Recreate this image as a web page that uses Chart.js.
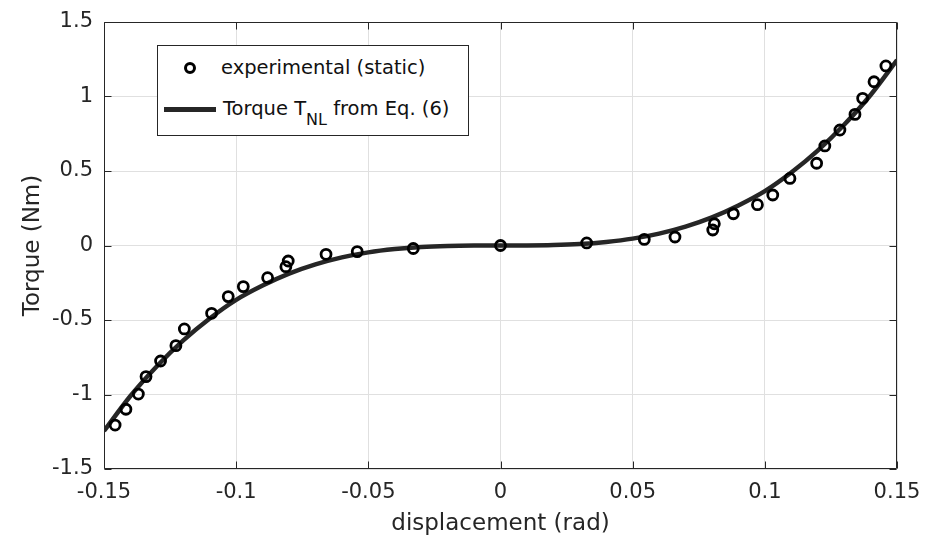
<!DOCTYPE html>
<html>
<head>
<meta charset="utf-8">
<script src="https://cdn.jsdelivr.net/npm/chart.js@4"></script>
<style>
  body { margin: 0; background: #fff; }
  #wrap { position: relative; width: 926px; height: 546px; }
  #legend {
    position: absolute; left: 157px; top: 45px; width: 312px; height: 91px;
    box-sizing: border-box; border: 1px solid #262626; background: #fff;
    font-family: 'DejaVu Sans', sans-serif; font-size: 19.5px; color: #111;
  }
  #legend .row { position: absolute; line-height: 22px; white-space: nowrap; }
  #legend .mk {
    position: absolute; left: 26px; top: 16px; width: 12px; height: 12px;
    box-sizing: border-box; border: 3px solid #000; border-radius: 50%;
  }
  #legend .ln { position: absolute; left: 6px; top: 61px; width: 52px; height: 5px; background: #262626; }
  #legend sub { font-size: 16px; vertical-align: -10px; line-height: 0; }
</style>
</head>
<body>
<div id="wrap">
  <canvas id="c"></canvas>
  <div id="legend">
    <span class="mk"></span>
    <div class="row" style="left:63px; top:11px;">experimental (static)</div>
    <span class="ln"></span>
    <div class="row" style="left:65px; top:52px;">Torque T<sub>NL</sub> from Eq. (6)</div>
  </div>
</div>
<script>
// ----- Data -----
const expX = [-0.1458, -0.1417, -0.1370, -0.1341, -0.1286, -0.1228, -0.1196, -0.1093, -0.1030, -0.0973,
              -0.0881, -0.0812, -0.0803, -0.0660, -0.0542, -0.0330, 0.0000, 0.0326, 0.0544, 0.0660,
               0.0803, 0.0809, 0.0881, 0.0972, 0.1030, 0.1095, 0.1196, 0.1227, 0.1284, 0.1341,
               0.1370, 0.1413, 0.1458];
const expY = [-1.205, -1.099, -0.997, -0.880, -0.775, -0.672, -0.560, -0.455, -0.343, -0.276,
              -0.216, -0.142, -0.104, -0.059, -0.041, -0.020, 0.000, 0.017, 0.041, 0.057,
               0.104, 0.146, 0.213, 0.274, 0.339, 0.450, 0.552, 0.668, 0.775, 0.880,
               0.988, 1.099, 1.205];

// model curve T_NL, sampled every 0.01 rad
const curveX = [-0.15, -0.14, -0.13, -0.12, -0.11, -0.10, -0.09, -0.08, -0.07, -0.06, -0.05,
                -0.04, -0.03, -0.02, -0.01, 0.00, 0.01, 0.02, 0.03, 0.04, 0.05,
                 0.06, 0.07, 0.08, 0.09, 0.10, 0.11, 0.12, 0.13, 0.14, 0.15];
const curveY = [-1.245, -1.010, -0.810, -0.637, -0.490, -0.365, -0.269, -0.189, -0.127, -0.080, -0.046,
                -0.024, -0.010, -0.003, -0.0004, 0.000, 0.0004, 0.003, 0.010, 0.024, 0.046,
                 0.080, 0.127, 0.189, 0.269, 0.365, 0.490, 0.637, 0.810, 1.010, 1.245];

const xTicks = [-0.15, -0.1, -0.05, 0, 0.05, 0.1, 0.15];
const xTickLabels = ['-0.15', '-0.1', '-0.05', '0', '0.05', '0.1', '0.15'];
const yTicks = [-1.5, -1, -0.5, 0, 0.5, 1, 1.5];
const yTickLabels = ['-1.5', '-1', '-0.5', '0', '0.5', '1', '1.5'];

const FONT = "'DejaVu Sans', sans-serif";
const INK = '#262626';

// box outline + inward ticks on all four sides (MATLAB style)
const boxPlugin = {
  id: 'box',
  afterDraw(chart) {
    const {ctx, chartArea: a, scales: {x, y}} = chart;
    const L = 7;
    const l = Math.round(a.left) + 0.5, r = Math.round(a.right) - 0.5;
    const t = Math.round(a.top) + 0.5, b = Math.round(a.bottom) - 0.5;
    ctx.save();
    ctx.strokeStyle = INK;
    ctx.lineWidth = 1;
    ctx.beginPath();
    ctx.rect(l, t, r - l, b - t);
    xTicks.forEach(v => {
      const px = Math.round(x.getPixelForValue(v)) + 0.5;
      ctx.moveTo(px, b); ctx.lineTo(px, b - L);
      ctx.moveTo(px, t); ctx.lineTo(px, t + L);
    });
    yTicks.forEach(v => {
      const py = Math.round(y.getPixelForValue(v)) + 0.5;
      ctx.moveTo(l, py); ctx.lineTo(l + L, py);
      ctx.moveTo(r, py); ctx.lineTo(r - L, py);
    });
    ctx.stroke();
    ctx.restore();
  }
};

new Chart(document.getElementById('c'), {
  type: 'scatter',
  data: {
    datasets: [
      {
        label: 'experimental (static)',
        data: expX.map((v, i) => ({x: v, y: expY[i]})),
        pointRadius: 5,
        pointBorderWidth: 2.8,
        pointBorderColor: '#000',
        pointBackgroundColor: 'rgba(0,0,0,0)',
        showLine: false
      },
      {
        label: 'Torque T_NL from Eq. (6)',
        data: curveX.map((v, i) => ({x: v, y: curveY[i]})),
        showLine: true,
        borderColor: INK,
        borderWidth: 4.5,
        pointRadius: 0,
        cubicInterpolationMode: 'monotone'
      }
    ]
  },
  options: {
    responsive: true,
    maintainAspectRatio: false,
    animation: false,
    events: [],
    layout: { padding: { top: 22, right: 29, left: 0, bottom: 0 } },
    plugins: { legend: { display: false }, tooltip: { enabled: false } },
    scales: {
      x: {
        type: 'linear', min: -0.15, max: 0.15,
        afterBuildTicks: s => { s.ticks = xTicks.map(v => ({value: v})); },
        afterFit: s => { s.height = 77; s.paddingLeft = 0; s.paddingRight = 0; },
        ticks: {
          color: INK, padding: 11, maxRotation: 0,
          font: { family: FONT, size: 21 },
          callback: (v, i) => xTickLabels[i]
        },
        grid: { color: '#e0e0e0', drawTicks: false },
        border: { display: false },
        title: {
          display: true, text: 'displacement (rad)', color: INK,
          font: { family: FONT, size: 23 }, padding: { top: 0, bottom: 8 }
        }
      },
      y: {
        type: 'linear', min: -1.5, max: 1.5,
        afterBuildTicks: s => { s.ticks = yTicks.map(v => ({value: v})); },
        afterFit: s => { s.width = 104; s.paddingTop = 0; s.paddingBottom = 0; },
        ticks: {
          color: INK, padding: 11,
          font: { family: FONT, size: 21 },
          callback: (v, i) => yTickLabels[i]
        },
        grid: { color: '#e0e0e0', drawTicks: false },
        border: { display: false },
        title: {
          display: true, text: 'Torque (Nm)', color: INK,
          font: { family: FONT, size: 23 }, padding: { top: 19, bottom: 0 }
        }
      }
    }
  },
  plugins: [boxPlugin]
});
</script>
</body>
</html>
